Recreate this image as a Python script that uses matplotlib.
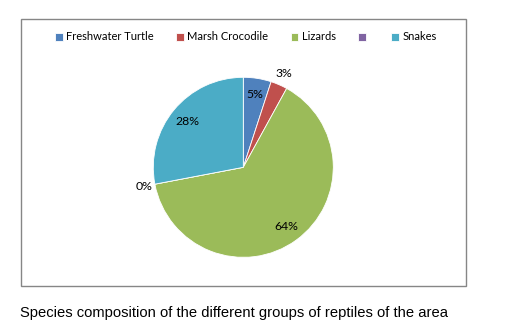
import numpy as np
import matplotlib
matplotlib.use("Agg")
from matplotlib import pyplot
from matplotlib.patches import Rectangle

groups = ["Freshwater Turtle", "Marsh Crocodile", "Lizards", "", "Snakes"]
shares = [5, 3, 64, 0, 28]
colors = ["#4F81BD", "#C0504D", "#9BBB59", "#8064A2", "#4BACC6"]
# how far from the centre each percentage sits (fraction of radius)
label_dist = [0.82, 1.13, 0.81, 1.12, 0.80]

caption = "Species composition of the different groups of reptiles of the area"

W, H = 516, 336
fig = pyplot.figure(figsize=(W / 100, H / 100), dpi=100)

# outer chart frame
fig.patches.append(Rectangle((21 / W, 1 - 286 / H), 445 / W, 267 / H,
                             transform=fig.transFigure, fill=False,
                             edgecolor="#868686", linewidth=1.0))

cx, cy, r = 243.3, 167.3, 90.0
ax = fig.add_axes([(cx - r) / W, (H - cy - r) / H, 2 * r / W, 2 * r / H])
wedges, _ = ax.pie(shares, colors=colors, startangle=90, counterclock=False,
                   radius=1.0, wedgeprops=dict(edgecolor="white", linewidth=0.6))
ax.set_xlim(-1, 1)
ax.set_ylim(-1, 1)
ax.set_aspect("equal")
ax.axis("off")

# percentage labels at the middle angle of each slice
total = float(sum(shares))
start = 0.0
for val, dist in zip(shares, label_dist):
    mid = (start + val / 2.0) / total * 360.0
    ang = np.deg2rad(90.0 - mid)
    ax.text(dist * np.cos(ang), dist * np.sin(ang), "%d%%" % round(val),
            ha="center", va="center", fontsize=8.8, family="Lato", color="#000000")
    start += val

fig.legend(wedges, groups, loc="center", bbox_to_anchor=(246 / W, 1 - 37 / H),
           ncol=5, frameon=False, handlelength=0.7, handleheight=0.7,
           handletextpad=0.3, columnspacing=2.0,
           prop=dict(family="Lato", size=8))

fig.text(20 / W, 1 - 313 / H, caption, ha="left", va="center",
         fontsize=10.6, family="Liberation Sans")

fig.savefig("out.png", dpi=100)
